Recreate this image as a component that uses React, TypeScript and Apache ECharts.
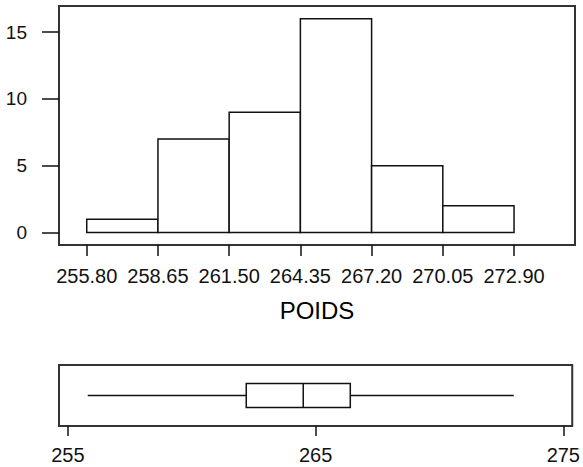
import React, { useEffect, useRef } from "react";
import * as echarts from "echarts";

const binEdges = [255.8, 258.65, 261.5, 264.35, 267.2, 270.05, 272.9];
const counts = [1, 7, 9, 16, 5, 2];
const yTicks = [0, 5, 10, 15];
const boxTicks = [255, 265, 275];
// min, Q1, median, Q3, max
const boxStats = [255.8, 262.2, 264.5, 266.4, 273.0];
const axisName = "POIDS";

const FONT = "'Liberation Sans', Arial, sans-serif";
const TXT = "#111";
const LINE = "#111";
const FRAME = "#333";

export default function App() {
  const ref = useRef<HTMLDivElement>(null);
  useEffect(() => {
    if (!ref.current) return;
    const chart = echarts.init(ref.current, null, { renderer: "svg" });
    const histData = counts.map((c, i) => [binEdges[i], binEdges[i + 1], c]);
    const option: any = {
      animation: false,
      backgroundColor: "#fff",
      grid: [
        { left: 59, top: 6, width: 516, height: 239, show: true, borderColor: FRAME, borderWidth: 2, backgroundColor: "transparent" },
        { left: 59, top: 365, width: 516, height: 61, show: true, borderColor: FRAME, borderWidth: 2, backgroundColor: "transparent" },
      ],
      xAxis: [
        {
          gridIndex: 0,
          type: "value",
          min: 254.69,
          max: 275.34,
          axisLine: { show: false, onZero: false },
          splitLine: { show: false },
          axisTick: { show: true, length: 11, customValues: binEdges, lineStyle: { color: LINE, width: 1.5 } },
          axisLabel: {
            customValues: binEdges,
            formatter: (v: number) => v.toFixed(2),
            fontFamily: FONT,
            fontSize: 20,
            color: TXT,
            margin: 21,
          },
          name: axisName,
          nameLocation: "middle",
          nameGap: 53,
          nameTextStyle: { fontFamily: FONT, fontSize: 24, color: "#000" },
        },
        {
          gridIndex: 1,
          type: "value",
          min: 254.64,
          max: 275.36,
          axisLine: { show: false, onZero: false },
          splitLine: { show: false },
          axisTick: { show: true, length: 10, customValues: boxTicks, lineStyle: { color: LINE, width: 1.5 } },
          axisLabel: {
            customValues: boxTicks,
            fontFamily: FONT,
            fontSize: 20,
            color: TXT,
            margin: 19,
          },
        },
      ],
      yAxis: [
        {
          gridIndex: 0,
          type: "value",
          min: -0.93,
          max: 16.95,
          axisLine: { show: false, onZero: false },
          splitLine: { show: false },
          axisTick: { show: true, length: 17, customValues: yTicks, lineStyle: { color: LINE, width: 1.5 } },
          axisLabel: {
            customValues: yTicks,
            fontFamily: FONT,
            fontSize: 19,
            color: TXT,
            margin: 32,
          },
        },
        {
          gridIndex: 1,
          type: "value",
          min: -1,
          max: 1,
          show: false,
        },
      ],
      series: [
        {
          type: "custom",
          xAxisIndex: 0,
          yAxisIndex: 0,
          data: histData,
          encode: { x: [0, 1], y: 2 },
          renderItem: (params: any, api: any) => {
            const p0 = api.coord([api.value(0), api.value(2)]);
            const p1 = api.coord([api.value(1), 0]);
            return {
              type: "rect",
              shape: { x: p0[0], y: p0[1], width: p1[0] - p0[0], height: p1[1] - p0[1] },
              style: { fill: "#fff", stroke: LINE, lineWidth: 1.5 },
            };
          },
        },
        {
          type: "custom",
          xAxisIndex: 1,
          yAxisIndex: 1,
          data: [[...boxStats, 0]],
          encode: { x: [0, 1, 2, 3, 4], y: 5 },
          renderItem: (params: any, api: any) => {
            const y = api.value(5);
            const pMin = api.coord([api.value(0), y]);
            const pQ1 = api.coord([api.value(1), y]);
            const pMed = api.coord([api.value(2), y]);
            const pQ3 = api.coord([api.value(3), y]);
            const pMax = api.coord([api.value(4), y]);
            const h = 12;
            const st = { stroke: LINE, lineWidth: 1.5, fill: "none" };
            return {
              type: "group",
              children: [
                { type: "line", shape: { x1: pMin[0], y1: pMin[1], x2: pQ1[0], y2: pQ1[1] }, style: st },
                { type: "line", shape: { x1: pQ3[0], y1: pQ3[1], x2: pMax[0], y2: pMax[1] }, style: st },
                {
                  type: "rect",
                  shape: { x: pQ1[0], y: pQ1[1] - h, width: pQ3[0] - pQ1[0], height: 2 * h },
                  style: { stroke: LINE, lineWidth: 1.5, fill: "#fff" },
                },
                { type: "line", shape: { x1: pMed[0], y1: pMed[1] - h, x2: pMed[0], y2: pMed[1] + h }, style: st },
              ],
            };
          },
        },
      ],
    };
    chart.setOption(option);
    return () => chart.dispose();
  }, []);
  return (
    <div
      ref={ref}
      style={{ position: "fixed", left: 0, top: 0, width: 583, height: 467, background: "#fff" }}
    />
  );
}
